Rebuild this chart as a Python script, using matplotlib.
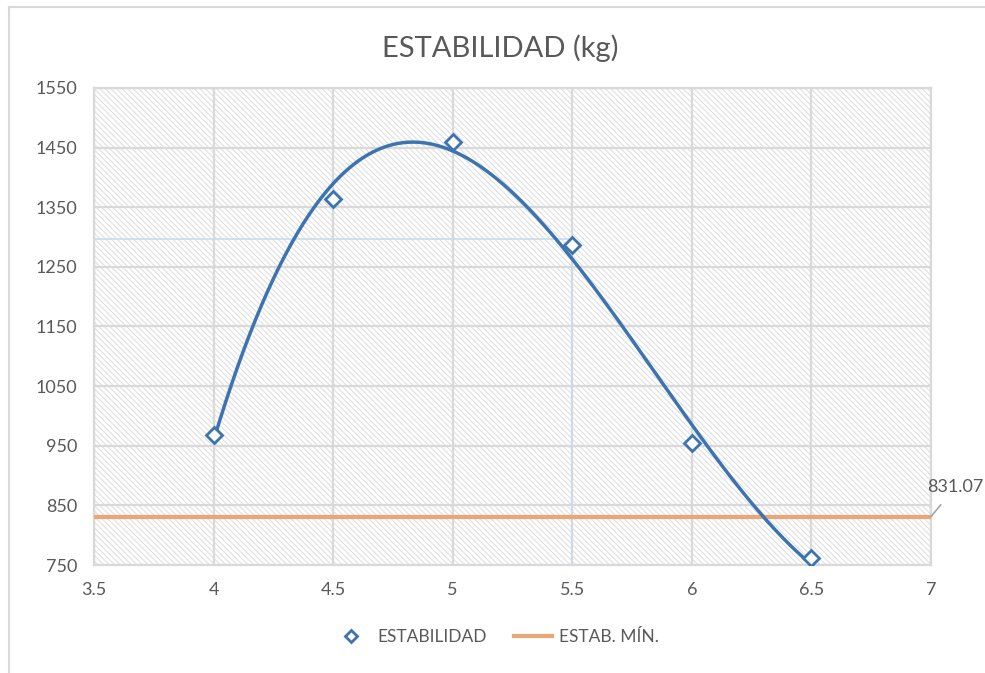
import numpy as np
import matplotlib
matplotlib.use("Agg")
import matplotlib.pyplot as plt
from matplotlib.lines import Line2D

# data
espesor = [4.0, 4.5, 5.0, 5.5, 6.0, 6.5]
estabilidad = [968, 1363, 1459, 1287, 954, 761]
estab_min = 831.07
x_ticks = [3.5, 4, 4.5, 5, 5.5, 6, 6.5, 7]
y_ticks = [750, 850, 950, 1050, 1150, 1250, 1350, 1450, 1550]

plt.rcParams["font.family"] = ["Lato", "DejaVu Sans"]
plt.rcParams["hatch.linewidth"] = 0.8

txt = "#595959"
grid_c = "#d9d9d9"
blue = "#3d73b0"
orange = "#eba676"

fig = plt.figure(figsize=(9.85, 6.73), dpi=100)
ax = fig.add_axes([94 / 985, 1 - 565 / 673, 837 / 985, 477 / 673])

# chart frame (Excel style)
fig.add_artist(Line2D([9 / 985, 9 / 985], [0, 1 - 7 / 673], color="#d9d9d9", lw=1.5))
fig.add_artist(Line2D([9 / 985, 1], [1 - 7 / 673, 1 - 7 / 673], color="#d9d9d9", lw=1.5))

# hatched plot area
ax.patch.set_facecolor("white")
ax.fill_between([3.5, 7], 750, 1550, facecolor="white", hatch="\\\\\\\\\\\\",
                edgecolor="#e0e0e0", linewidth=0, zorder=0)

ax.set_xlim(3.5, 7)
ax.set_ylim(750, 1550)
ax.set_xticks(x_ticks)
ax.set_xticklabels([f"{v:g}" for v in x_ticks])
ax.set_yticks(y_ticks)
ax.grid(True, color=grid_c, lw=1.6, zorder=1)
for s in ax.spines.values():
    s.set_color(grid_c)
    s.set_linewidth(1.6)
ax.tick_params(length=0, colors=txt, labelsize=13, pad=12)

# faint hover crosshair visible in the original
ax.plot([3.5, 5.5], [1297, 1297], color="#c9dcee", lw=1.2, zorder=2)
ax.plot([5.5, 5.5], [750, 1280], color="#c9dcee", lw=1.2, zorder=2)

# minimum stability line
ax.axhline(estab_min, color=orange, lw=3, zorder=3)

# polynomial trendline (order 3) like in Excel
coef = np.polyfit(espesor, estabilidad, 3)
xs = np.linspace(espesor[0], espesor[-1], 300)
ax.plot(xs, np.polyval(coef, xs), color=blue, lw=2.5, zorder=4)

ax.plot(espesor, estabilidad, linestyle="none", marker="D", markersize=8,
        markerfacecolor="white", markeredgecolor=blue, markeredgewidth=2, zorder=5)

ax.annotate(f"{estab_min:.2f}", xy=(7, estab_min), xytext=(7.1, 880),
            fontsize=13, color=txt, ha="center", va="center", annotation_clip=False,
            arrowprops=dict(arrowstyle="-", color="#a6a6a6", lw=1.2,
                            shrinkA=6, shrinkB=0))

fig.text(500 / 985, 1 - 48 / 673, "ESTABILIDAD (kg)", fontsize=21, color=txt,
         ha="center", va="center")

handles = [
    Line2D([], [], linestyle="none", marker="D", markersize=6, markerfacecolor="white",
           markeredgecolor=blue, markeredgewidth=2),
    Line2D([], [], color=orange, lw=3),
]
fig.legend(handles, ["ESTABILIDAD", "ESTAB. MÍN."], loc="center", ncol=2,
           bbox_to_anchor=(0.503, 1 - 637 / 673), frameon=False, fontsize=12.5,
           labelcolor=txt, handlelength=2.2, columnspacing=1.6, handletextpad=0.4)

fig.savefig("out.png", dpi=100, facecolor="white")
